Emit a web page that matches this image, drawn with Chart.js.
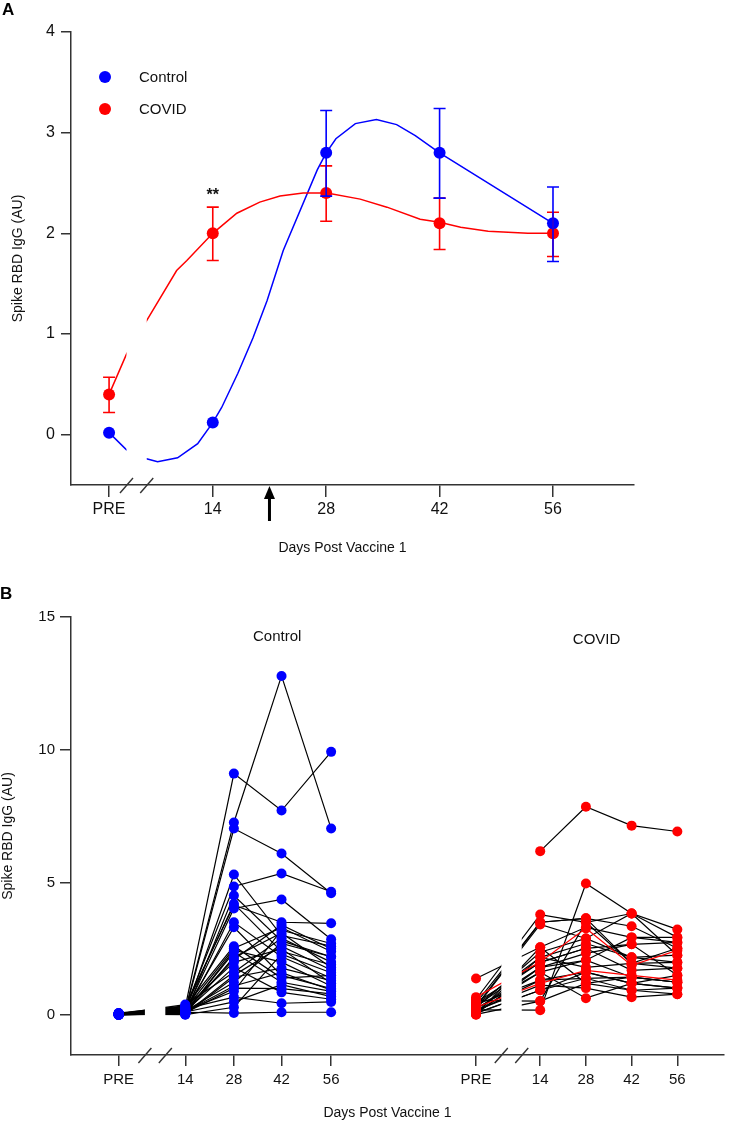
<!DOCTYPE html>
<html><head><meta charset="utf-8">
<script src="https://cdn.jsdelivr.net/npm/chart.js@4.4.1/dist/chart.umd.min.js"></script>
<style>
html,body{margin:0;padding:0;background:#fff;}
#wrap{position:relative;width:729px;height:1123px;overflow:hidden;font-family:'Liberation Sans',Arial,sans-serif;}
canvas{position:absolute;left:0;}
#cA{top:0}
#cB{top:560px}
.panel{position:absolute;font-weight:bold;font-size:17px;line-height:17px;color:#000;}
</style></head>
<body><div id="wrap">
<canvas id="cA" width="729" height="560"></canvas>
<canvas id="cB" width="729" height="563"></canvas>
<div class="panel" style="left:2px;top:1px">A</div>
<div class="panel" style="left:0px;top:585px">B</div>
</div>
<script>
// ---------- Panel A data ----------
const timeLabels = ['PRE', '14', '28', '42', '56'];
const PRE_X = 1.2;                     // day-axis position of PRE column
const xA = [PRE_X, 14, 28, 42, 56];
const yTicksA = [0, 1, 2, 3, 4];
const controlMean = [0.02, 0.12, 2.80, 2.80, 2.10];
const controlErrLow = [0.02, 0.12, 2.37, 2.35, 1.72];
const controlErrHigh = [0.02, 0.12, 3.22, 3.24, 2.46];
const covidMean = [0.40, 2.00, 2.40, 2.10, 2.00];
const covidErrLow = [0.22, 1.73, 2.12, 1.84, 1.77];
const covidErrHigh = [0.57, 2.26, 2.67, 2.35, 2.21];
const controlCurveX = [1.2, 3.35, 5.82, 7.19, 9.66, 12.14, 14, 15.1, 17.1, 18.96, 20.7, 22.7, 26.9, 28, 29.2, 31.6, 34.2, 36.7, 39.0, 42, 56];
const controlCurveY = [0.02, -0.15, -0.24, -0.27, -0.23, -0.09, 0.12, 0.27, 0.61, 0.96, 1.33, 1.83, 2.63, 2.80, 2.94, 3.09, 3.13, 3.08, 2.97, 2.80, 2.10];
const covidCurveX = [1.2, 3.35, 5.82, 9.54, 10.8, 14, 16.97, 19.8, 22.3, 25.15, 28.1, 32.2, 35.5, 39.6, 42, 44.6, 48.0, 52.9, 56];
const covidCurveY = [0.40, 0.80, 1.13, 1.63, 1.73, 2.00, 2.20, 2.31, 2.37, 2.40, 2.40, 2.34, 2.26, 2.14, 2.11, 2.06, 2.02, 2.00, 2.00];
const secondDoseDay = 21;
const breakA = [3.35, 5.85];

// ---------- Panel B data (PRE, 14, 28, 42, 56) ----------
const yTicksB = [0, 5, 10, 15];
const controlSubjects = [
  [0.05, 0.30, 9.10, 7.71, 9.92],
  [0.02, 0.20, 7.26, 12.78, 7.03],
  [0.04, 0.15, 7.03, 6.09, 4.59],
  [0.03, 0.25, 4.85, 5.34, 4.65],
  [0.06, 0.10, 5.30, 3.00, 2.60],
  [0.02, 0.05, 4.51, 2.80, 2.20],
  [0.08, 0.35, 4.14, 3.50, 3.46],
  [0.03, 0.12, 4.02, 4.36, 2.86],
  [0.01, 0.08, 3.50, 2.20, 1.40],
  [0.05, 0.18, 3.31, 1.50, 1.00],
  [0.02, 0.22, 2.52, 3.30, 2.40],
  [0.04, 0.10, 2.37, 1.24, 0.90],
  [0.03, 0.06, 2.18, 3.10, 1.80],
  [0.07, 0.28, 1.99, 2.50, 1.20],
  [0.02, 0.14, 1.80, 0.86, 0.60],
  [0.05, 0.40, 1.62, 2.90, 2.00],
  [0.03, 0.03, 1.43, 1.77, 1.30],
  [0.01, 0.16, 1.24, 2.70, 2.20],
  [0.06, 0.09, 1.02, 1.00, 0.80],
  [0.02, 0.24, 0.68, 0.45, 0.50],
  [0.04, 0.02, 0.30, 2.30, 1.60],
  [0.03, 0.11, 0.08, 0.11, 0.11],
  [0.05, 0.20, 2.10, 3.40, 2.50],
  [0.02, 0.07, 2.45, 2.00, 1.10],
  [0.04, 0.13, 1.10, 1.60, 0.95],
  [0.03, 0.33, 2.60, 1.40, 1.50],
  [0.01, 0.05, 1.50, 2.60, 1.70],
  [0.05, 0.17, 0.90, 3.20, 2.70],
  [0.02, 0.26, 4.20, 2.40, 1.90],
  [0.06, 0.12, 0.50, 1.15, 0.70]
];
const covidSubjects = [
  [null, 6.18, 7.85, 7.14, 6.92],
  [0.60, 3.79, 3.50, 3.83, 2.93],
  [0.45, 3.50, 3.65, 3.35, 2.52],
  [0.30, 3.42, 2.89, 3.83, 3.23],
  [1.38, 2.56, 3.31, 2.93, 2.74],
  [0.20, 0.19, 4.96, 3.83, 2.26],
  [0.10, 2.18, 2.70, 2.18, 1.99],
  [0.35, 1.99, 2.52, 1.69, 1.77],
  [0.05, 1.80, 2.33, 2.67, 1.50],
  [0.25, 1.62, 2.07, 1.43, 1.24],
  [0.40, 1.32, 1.62, 1.20, 1.02],
  [0.08, 0.94, 1.39, 0.94, 0.79],
  [0.55, 0.53, 1.20, 1.43, 1.24],
  [0.18, 1.13, 1.02, 0.68, 0.79],
  [0.12, 1.62, 0.64, 1.20, 1.02],
  [0.28, 2.37, 2.89, 2.18, 2.26],
  [0.03, 0.53, 3.50, 1.95, 1.99],
  [0.22, 1.80, 2.07, 2.93, 2.93],
  [0.38, 2.18, 1.80, 1.95, 1.77],
  [0.07, 0.94, 1.62, 1.20, 1.50],
  [0.48, 1.99, 2.52, 2.67, 2.74],
  [0.14, 1.32, 1.39, 1.43, 1.24],
  [0.33, 3.50, 3.65, 1.95, 2.52],
  [0.02, 2.56, 1.20, 0.94, 1.02]
];
const covidRedSubjects = [
  [0.68, 2.00, 3.27, 1.88, 2.44],
  [0.30, 1.20, 1.69, 1.50, 1.32]
];
// x slots on panel B axis (layout)
const slotControl = [0.98, 2.35, 3.35, 4.33, 5.35];
const slotCovid = [8.33, 9.65, 10.59, 11.53, 12.47];
const breakB = [1.52, 1.94, 8.85, 9.27];
const xMaxB = 13.43;

const BLUE = '#0000ff', RED = '#ff0000', AXIS = '#333';
Chart.defaults.font.family = "'Liberation Sans', Arial, sans-serif";
Chart.defaults.color = '#111';

const zip = (xs, ys) => xs.map((x, i) => ({x: x, y: ys[i]}));

function slash(ctx, cx, cy) {
  ctx.beginPath();
  ctx.moveTo(cx - 6.5, cy + 7.5);
  ctx.lineTo(cx + 6.5, cy - 7.5);
  ctx.stroke();
}

// ---------- Panel A ----------
const plugA = {
  id: 'extrasA',
  afterDatasetsDraw(chart) {
    const {ctx, chartArea: ca, scales: {x, y}} = chart;
    ctx.save();
    ctx.fillStyle = '#fff';
    const g0 = x.getPixelForValue(breakA[0]), g1 = x.getPixelForValue(breakA[1]);
    ctx.fillRect(g0, ca.top, g1 - g0, ca.bottom - ca.top - 4);
    const bars = [[covidErrLow, covidErrHigh, RED], [controlErrLow, controlErrHigh, BLUE]];
    ctx.lineWidth = 1.6;
    bars.forEach(([lo, hi, col]) => {
      ctx.strokeStyle = col;
      xA.forEach((xv, i) => {
        if (hi[i] - lo[i] < 0.03) return;
        const px = x.getPixelForValue(xv), y0 = y.getPixelForValue(lo[i]), y1 = y.getPixelForValue(hi[i]);
        ctx.beginPath();
        ctx.moveTo(px, y0); ctx.lineTo(px, y1);
        ctx.moveTo(px - 6, y0); ctx.lineTo(px + 6, y0);
        ctx.moveTo(px - 6, y1); ctx.lineTo(px + 6, y1);
        ctx.stroke();
      });
    });
    ctx.fillStyle = '#111';
    ctx.font = "bold 16px 'Liberation Sans', Arial, sans-serif";
    ctx.textAlign = 'center';
    ctx.textBaseline = 'middle';
    ctx.fillText('**', x.getPixelForValue(14), y.getPixelForValue(covidErrHigh[1]) - 12);
    ctx.restore();
  },
  afterDraw(chart) {
    const {ctx, chartArea: ca, scales: {x, y}} = chart;
    ctx.save();
    ctx.strokeStyle = AXIS; ctx.lineWidth = 1.4;
    breakA.forEach(v => slash(ctx, x.getPixelForValue(v), ca.bottom + 0.5));
    // arrow at second dose
    const ax = x.getPixelForValue(secondDoseDay), tip = ca.bottom + 1;
    ctx.fillStyle = '#000';
    ctx.beginPath();
    ctx.moveTo(ax, tip); ctx.lineTo(ax - 5.5, tip + 13); ctx.lineTo(ax + 5.5, tip + 13); ctx.closePath();
    ctx.fill();
    ctx.fillRect(ax - 1.5, tip + 10, 3, 25);
    // legend
    const items = [['Control', BLUE], ['COVID', RED]];
    ctx.font = "15px 'Liberation Sans', Arial, sans-serif";
    ctx.textAlign = 'left'; ctx.textBaseline = 'middle';
    items.forEach(([t, c], i) => {
      const cy = ca.top + 45 + i * 32;
      ctx.fillStyle = c;
      ctx.beginPath(); ctx.arc(ca.left + 34, cy, 6, 0, Math.PI * 2); ctx.fill();
      ctx.fillStyle = '#111';
      ctx.fillText(t, ca.left + 68, cy + 1);
    });
    // x title
    ctx.font = "14px 'Liberation Sans', Arial, sans-serif";
    ctx.textAlign = 'center';
    ctx.fillText('Days Post Vaccine 1', (ca.left + ca.right) / 2 - 10, 548);
    ctx.restore();
  }
};

const axisGrid = (len) => ({display: true, drawOnChartArea: false, drawTicks: true, tickLength: len, color: AXIS, lineWidth: 1.5});
const axisBorder = {display: true, color: AXIS, width: 1.5};

new Chart(document.getElementById('cA'), {
  type: 'scatter',
  data: {datasets: [
    {label: 'Control fit', data: zip(controlCurveX, controlCurveY), showLine: true, borderColor: BLUE, borderWidth: 1.5, pointRadius: 0, order: 3},
    {label: 'COVID fit', data: zip(covidCurveX, covidCurveY), showLine: true, borderColor: RED, borderWidth: 1.5, pointRadius: 0, order: 2},
    {label: 'COVID', data: zip(xA, covidMean), pointRadius: 6, pointBackgroundColor: RED, pointBorderWidth: 0, order: 1},
    {label: 'Control', data: zip(xA, controlMean), pointRadius: 6, pointBackgroundColor: BLUE, pointBorderWidth: 0, order: 0}
  ]},
  options: {
    responsive: false, animation: false, devicePixelRatio: 1,
    layout: {padding: {top: 32, right: 95, bottom: 0, left: 0}},
    plugins: {legend: {display: false}, tooltip: {enabled: false}},
    scales: {
      x: {type: 'linear', min: -3.5, max: 66,
        afterBuildTicks: s => { s.ticks = xA.map(v => ({value: v})); },
        afterFit: s => { s.height = 75; },
        ticks: {callback: (v, i) => timeLabels[i], autoSkip: false, maxRotation: 0, padding: 3, font: {size: 16}},
        grid: axisGrid(12), border: axisBorder},
      y: {min: -0.5, max: 4,
        afterBuildTicks: s => { s.ticks = yTicksA.map(v => ({value: v})); },
        afterFit: s => { s.width = 71; },
        ticks: {padding: 6, font: {size: 16}},
        grid: axisGrid(10), border: axisBorder,
        title: {display: true, text: 'Spike RBD IgG (AU)', font: {size: 14}, padding: {top: 10, bottom: 0}}}
    }
  },
  plugins: [plugA]
});

// ---------- Panel B ----------
const subjLine = (vals, slots, color) => ({
  data: vals.map((v, i) => ({x: slots[i], y: v})).filter(p => p.y !== null),
  showLine: true, borderColor: color, borderWidth: 1.2, pointRadius: 0, order: color === RED ? 2 : 3
});
const groupPoints = (subjects, slots, color) => ({
  data: subjects.flatMap(s => s.map((v, i) => ({x: slots[i], y: v})).filter(p => p.y !== null)),
  showLine: false, pointRadius: 5, pointBackgroundColor: color, pointBorderWidth: 0, order: 0
});
const dsB = [];
controlSubjects.forEach(s => dsB.push(subjLine(s, slotControl, '#000')));
covidSubjects.forEach(s => dsB.push(subjLine(s, slotCovid, '#000')));
covidRedSubjects.forEach(s => dsB.push(subjLine(s, slotCovid, RED)));
dsB.push(groupPoints(controlSubjects, slotControl, BLUE));
dsB.push(groupPoints(covidSubjects.concat(covidRedSubjects), slotCovid, RED));
const allSlots = slotControl.concat(slotCovid);
const allLabels = timeLabels.concat(timeLabels);

const plugB = {
  id: 'extrasB',
  afterDatasetsDraw(chart) {
    const {ctx, chartArea: ca, scales: {x}} = chart;
    ctx.save();
    ctx.fillStyle = '#fff';
    for (let i = 0; i < breakB.length; i += 2) {
      const g0 = x.getPixelForValue(breakB[i]), g1 = x.getPixelForValue(breakB[i + 1]);
      ctx.fillRect(g0, ca.top, g1 - g0, ca.bottom - ca.top - 4);
    }
    ctx.restore();
  },
  afterDraw(chart) {
    const {ctx, chartArea: ca, scales: {x, y}} = chart;
    ctx.save();
    ctx.strokeStyle = AXIS; ctx.lineWidth = 1.4;
    breakB.forEach(v => slash(ctx, x.getPixelForValue(v), ca.bottom + 0.5));
    ctx.fillStyle = '#111';
    ctx.font = "15px 'Liberation Sans', Arial, sans-serif";
    ctx.textAlign = 'center'; ctx.textBaseline = 'middle';
    ctx.fillText('Control', x.getPixelForValue(4.24), y.getPixelForValue(14.27));
    ctx.fillText('COVID', x.getPixelForValue(10.81), y.getPixelForValue(14.13));
    ctx.font = "14px 'Liberation Sans', Arial, sans-serif";
    ctx.fillText('Days Post Vaccine 1', (ca.left + ca.right) / 2 - 10, 553);
    ctx.restore();
  }
};

new Chart(document.getElementById('cB'), {
  type: 'scatter',
  data: {datasets: dsB},
  options: {
    responsive: false, animation: false, devicePixelRatio: 1,
    layout: {padding: {top: 57, right: 0, bottom: 0, left: 0}},
    plugins: {legend: {display: false}, tooltip: {enabled: false}},
    scales: {
      x: {type: 'linear', min: 0, max: xMaxB,
        afterBuildTicks: s => { s.ticks = allSlots.map(v => ({value: v})); },
        afterFit: s => { s.height = 68; },
        ticks: {callback: (v, i) => allLabels[i], autoSkip: false, maxRotation: 0, padding: 5, font: {size: 15}},
        grid: axisGrid(11), border: axisBorder},
      y: {min: -1.5, max: 15,
        afterBuildTicks: s => { s.ticks = yTicksB.map(v => ({value: v})); },
        afterFit: s => { s.width = 71; },
        ticks: {padding: 5, font: {size: 15}},
        grid: axisGrid(11), border: axisBorder,
        title: {display: true, text: 'Spike RBD IgG (AU)', font: {size: 14}, padding: {top: 0, bottom: 0}}}
    }
  },
  plugins: [plugB]
});
</script>
</body></html>
